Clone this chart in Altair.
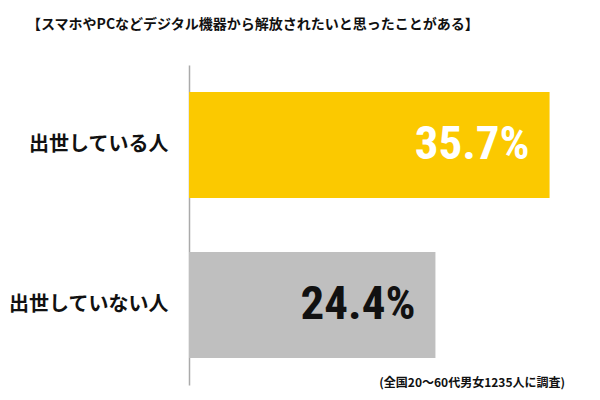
import altair as alt
import pandas as pd

categories = ["出世している人", "出世していない人"]
values = [35.7, 24.4]
labels = ["35.7%", "24.4%"]
bar_colors = ["#FBC900", "#BFBFBF"]
text_colors = ["#FFFFFF", "#111111"]
title_text = "【スマホやPCなどデジタル機器から解放されたいと思ったことがある】"
note_text = "(全国20～60代男女1235人に調査)"

df = pd.DataFrame({
    "cat": categories,
    "val": values,
    "label": labels,
    "bar_color": bar_colors,
    "text_color": text_colors,
})

jp = "Noto Sans CJK JP"
num_font = "Roboto Condensed, Roboto, sans-serif"

y_enc = alt.Y("cat:N", sort=categories,
              scale=alt.Scale(paddingInner=0, paddingOuter=0),
              axis=alt.Axis(title=None, ticks=False, domainColor="#AAAAAA", domainWidth=1.5,
                            labelFont=jp, labelFontSize=20, labelFontWeight="bold",
                            labelColor="#111111", labelPadding=21, grid=False))
x_enc = alt.X("val:Q", scale=alt.Scale(domain=[0, 40], nice=False), axis=None)

bars = alt.Chart(df).mark_bar(size=106).encode(
    x=x_enc, y=y_enc,
    color=alt.Color("bar_color:N", scale=None),
)

texts = alt.Chart(df).mark_text(
    align="right", baseline="middle", dx=-20, dy=0,
    font=num_font, fontSize=47, fontWeight="bold",
).encode(
    x=x_enc, y=alt.Y("cat:N", sort=categories),
    text="label:N",
    color=alt.Color("text_color:N", scale=None),
)

note = alt.Chart(pd.DataFrame({"t": [note_text]})).mark_text(
    align="right", baseline="middle", font=jp, fontSize=12, fontWeight="bold", color="#111111",
).encode(x=alt.value(376), y=alt.value(318), text="t:N")

chart = alt.layer(bars, texts, note).properties(
    width=404, height=320,
    autosize=alt.AutoSizeParams(type="none"),
    padding={"left": 189, "top": 65, "right": 7, "bottom": 15},
    title=alt.TitleParams(title_text, anchor="start", frame="group", dx=-162, offset=33,
                          font=jp, fontSize=14, fontWeight="bold", color="#111111"),
).configure(background="white").configure_view(stroke=None)

chart.save("out.html", embed_options={"renderer": "svg", "actions": False})
